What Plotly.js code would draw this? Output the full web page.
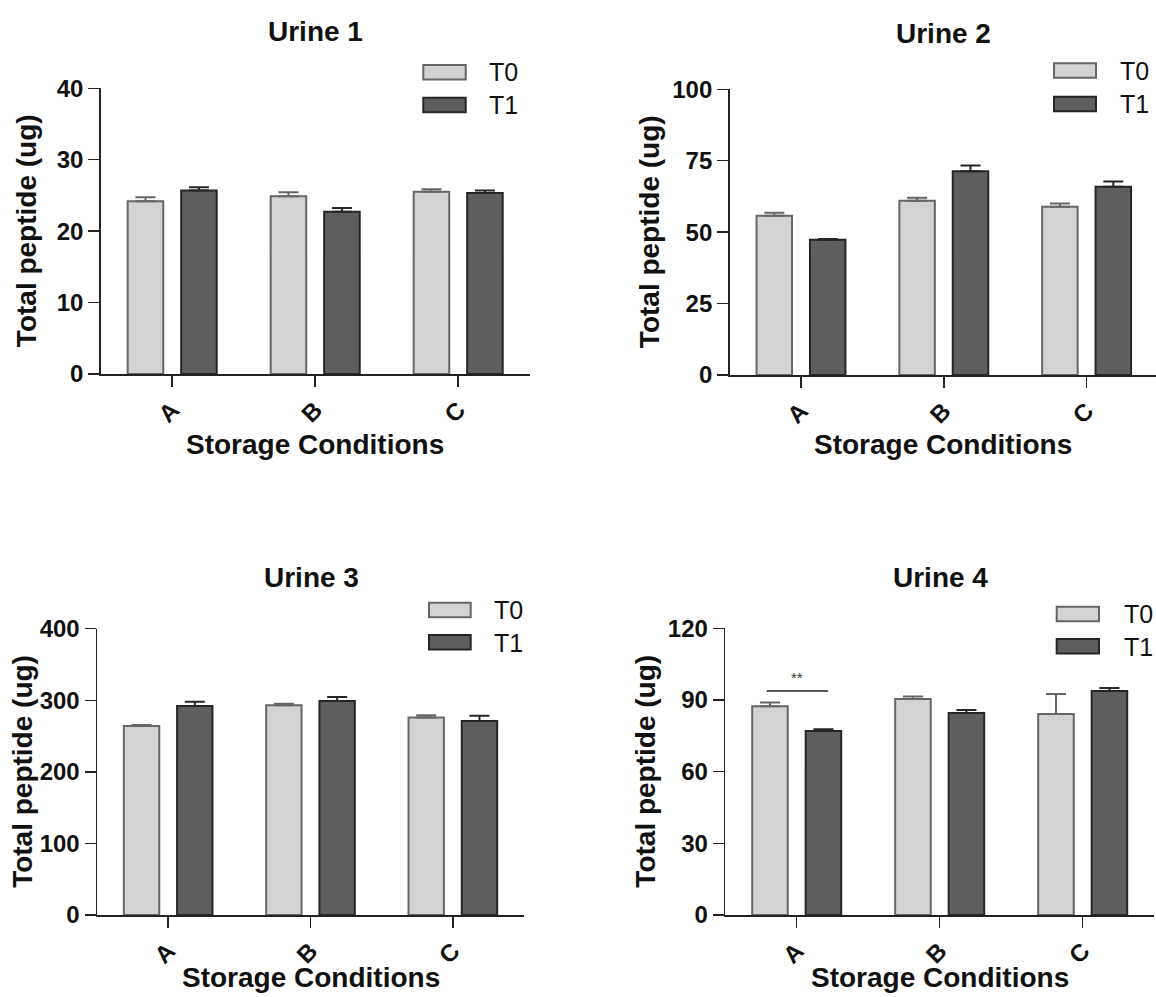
<!DOCTYPE html>
<html><head><meta charset="utf-8">
<script src="https://cdn.plot.ly/plotly-3.0.1.min.js"></script>
<style>html,body{margin:0;padding:0;background:#fff}</style>
</head><body><div id="chart" style="width:1156px;height:997px"></div>
<script>
// ---- data ----
const categories = ['A', 'B', 'C'];
const seriesNames = ['T0', 'T1'];
const panelTitles = ['Urine 1', 'Urine 2', 'Urine 3', 'Urine 4'];
const xTitle = 'Storage Conditions';
const yTitle = 'Total peptide (ug)';

const urine1T0 = [24.2, 24.9, 25.5];
const urine1T0Err = [0.55, 0.55, 0.35];
const urine1T1 = [25.7, 22.7, 25.35];
const urine1T1Err = [0.45, 0.55, 0.35];

const urine2T0 = [55.7, 61.0, 58.9];
const urine2T0Err = [1.1, 1.0, 1.1];
const urine2T1 = [47.3, 71.3, 65.9];
const urine2T1Err = [0.3, 2.0, 1.8];

const urine3T0 = [264, 293, 276];
const urine3T0Err = [1.5, 2, 3];
const urine3T1 = [292, 299, 271];
const urine3T1Err = [6, 5.5, 7.5];

const urine4T0 = [87.4, 90.4, 84.1];
const urine4T0Err = [1.5, 1.1, 8.4];
const urine4T1 = [77.0, 84.6, 93.8];
const urine4T1Err = [0.7, 1.2, 1.2];

const yTicks1 = [0, 10, 20, 30, 40];
const yTicks2 = [0, 25, 50, 75, 100];
const yTicks3 = [0, 100, 200, 300, 400];
const yTicks4 = [0, 30, 60, 90, 120];

const sigLabel = '**';
const sigLevel = 93.8;

// ---- layout helpers ----
const W = 1156, H = 997;
const px = x => x / W;
const py = y => 1 - y / H;
const FONT = 'Liberation Sans, Arial, Helvetica, sans-serif';

const panels = [
  {t0: urine1T0, t0e: urine1T0Err, t1: urine1T1, t1e: urine1T1Err, ticks: yTicks1,
   box: [100.7, 529.7, 88.3, 374], xr: [-0.5, 2.5], leg: [423.3, 465.7, 65, 97.7, 487],
   title: [315, 31.7], ytx: 26, xty: 444},
  {t0: urine2T0, t0e: urine2T0Err, t1: urine2T1, t1e: urine2T1Err, ticks: yTicks2,
   box: [729.6, 1156, 89.3, 375], xr: [-0.5, 2.486], leg: [1054, 1096, 63.3, 96.7, 1118],
   title: [943, 33], ytx: 649, xty: 444},
  {t0: urine3T0, t0e: urine3T0Err, t1: urine3T1, t1e: urine3T1Err, ticks: yTicks3,
   box: [97, 524, 628.7, 915], xr: [-0.5, 2.5], leg: [429, 470.7, 602.7, 635, 491.7],
   title: [311, 577.5], ytx: 23, xty: 977},
  {t0: urine4T0, t0e: urine4T0Err, t1: urine4T1, t1e: urine4T1Err, ticks: yTicks4,
   box: [725.2, 1154.2, 628.3, 915], xr: [-0.5, 2.5], leg: [1056.7, 1099, 606.7, 639, 1121.7],
   title: [940, 577.5], ytx: 646, xty: 977}
];

const fills = ['#d3d3d3', '#5e5e5e'];
const edges = ['#666666', '#262626'];

const traces = [];
const layout = {
  width: W, height: H,
  margin: {l: 0, r: 0, t: 0, b: 0},
  paper_bgcolor: '#fff', plot_bgcolor: '#fff',
  barmode: 'group', bargap: 0.252, bargroupgap: 0.335,
  showlegend: false,
  font: {family: FONT, color: '#111'},
  shapes: [], annotations: []
};

panels.forEach((p, i) => {
  const n = i === 0 ? '' : String(i + 1);
  const xa = 'x' + n, ya = 'y' + n;
  const vals = [p.t0, p.t1], errs = [p.t0e, p.t1e];
  for (let s = 0; s < 2; s++) {
    traces.push({
      type: 'bar', x: categories, y: vals[s], name: seriesNames[s],
      xaxis: xa, yaxis: ya,
      marker: {color: fills[s], line: {color: edges[s], width: 2}},
      error_y: {type: 'data', array: errs[s], arrayminus: errs[s].map(() => 0), symmetric: false,
                color: edges[s], thickness: 2, width: 10},
      hoverinfo: 'x+y'
    });
  }
  const [x0, x1, y0, y1] = p.box;
  const ymax = p.ticks[p.ticks.length - 1];
  layout['xaxis' + n] = {
    domain: [px(x0), px(x1)], anchor: ya, type: 'category', range: p.xr,
    showline: true, linecolor: '#222', linewidth: 1.5,
    ticks: 'outside', ticklen: 11, tickwidth: 1.5, tickcolor: '#222',
    tickangle: -45, tickfont: {family: FONT, size: 24, color: '#111', weight: 'bold'},
    showgrid: false, zeroline: false, fixedrange: true
  };
  layout['yaxis' + n] = {
    domain: [py(y1), py(y0)], anchor: xa, range: [0, ymax],
    tickmode: 'array', tickvals: p.ticks,
    showline: true, linecolor: '#222', linewidth: 1.5,
    ticks: 'outside', ticklen: 11, tickwidth: 1.5, tickcolor: '#222',
    tickfont: {family: FONT, size: 24, color: '#111', weight: 'bold'},
    showgrid: false, zeroline: false, fixedrange: true
  };
  // axis titles
  layout.annotations.push({
    text: xTitle, xref: 'paper', yref: 'paper', x: px((x0 + Math.min(x1, W)) / 2), y: py(p.xty),
    xanchor: 'center', yanchor: 'middle', showarrow: false, borderpad: 0,
    font: {family: FONT, size: 28, color: '#111', weight: 'bold'}
  });
  layout.annotations.push({
    text: yTitle, xref: 'paper', yref: 'paper', x: px(p.ytx), y: py((y0 + y1) / 2),
    xanchor: 'center', yanchor: 'middle', textangle: -90, showarrow: false,
    font: {family: FONT, size: 28, color: '#111', weight: 'bold'}
  });
  // subplot title
  layout.annotations.push({
    text: panelTitles[i], xref: 'paper', yref: 'paper', x: px(p.title[0]), y: py(p.title[1]),
    xanchor: 'center', yanchor: 'middle', showarrow: false,
    font: {family: FONT, size: 28, color: '#111', weight: 'bold'}
  });
  // legend
  const [lx0, lx1, ly0, ly1, tx] = p.leg;
  [ly0, ly1].forEach((ly, s) => {
    layout.shapes.push({type: 'rect', xref: 'paper', yref: 'paper',
      x0: px(lx0), x1: px(lx1), y0: py(ly + 14.5), y1: py(ly),
      fillcolor: fills[s], line: {color: edges[s], width: 2}});
    layout.annotations.push({text: seriesNames[s], xref: 'paper', yref: 'paper',
      x: px(tx), y: py(ly + 7.5), xanchor: 'left', yanchor: 'middle', showarrow: false,
      font: {family: FONT, size: 25, color: '#111'}});
  });
});

// significance marker in Urine 4, condition A
layout.shapes.push({type: 'line', xref: 'x4', yref: 'y4', x0: -0.21, x1: 0.22, y0: sigLevel, y1: sigLevel,
  line: {color: '#222', width: 1.5}});
layout.annotations.push({text: sigLabel, xref: 'x4', yref: 'y4', x: 0, y: sigLevel, xanchor: 'center',
  yanchor: 'bottom', yshift: 3, showarrow: false, font: {family: FONT, size: 15, color: '#333'}});

Plotly.newPlot('chart', traces, layout, {displayModeBar: false, staticPlot: true});
</script></body></html>
